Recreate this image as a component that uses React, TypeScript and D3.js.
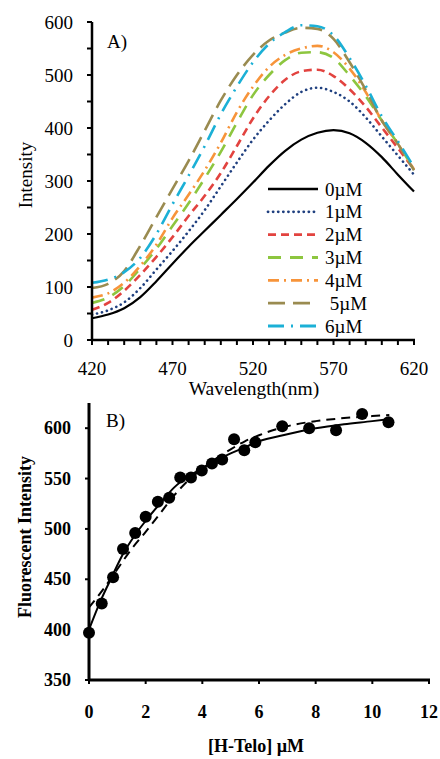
import React from "react";
import * as d3 from "d3";

const width = 440;
const height = 759;

// panel A: emission spectra
const wavelengths = [420, 430, 440, 450, 460, 470, 480, 490, 500, 510, 520, 530, 540, 550, 560, 570, 580, 590, 600, 610, 620];
const seriesNames = ["0µM", "1µM", "2µM", "3µM", "4µM", " 5µM", "6µM"];
const int0 = [41, 48, 60, 81, 111, 144, 176, 206, 236, 266, 297, 329, 357, 378, 391, 396, 390, 372, 345, 312, 280];
const int1 = [48, 56, 71, 98, 133, 168, 205, 245, 290, 335, 378, 414, 445, 468, 476, 468, 450, 420, 384, 348, 312];
const int2 = [57, 70, 93, 123, 157, 194, 234, 272, 315, 366, 418, 460, 491, 507, 510, 498, 473, 440, 401, 362, 322];
const int3 = [70, 80, 102, 135, 172, 215, 258, 305, 355, 410, 462, 500, 528, 542, 543, 532, 499, 460, 414, 370, 322];
const int4 = [80, 88, 108, 140, 180, 230, 274, 320, 372, 430, 478, 515, 538, 550, 555, 543, 512, 468, 414, 370, 322];
const int5 = [98, 106, 130, 178, 232, 285, 338, 395, 452, 500, 538, 565, 580, 589, 587, 568, 524, 472, 414, 370, 320];
const int6 = [108, 114, 128, 155, 200, 256, 310, 366, 426, 478, 524, 559, 581, 594, 592, 575, 532, 480, 422, 375, 326];
const spectra = [int0, int1, int2, int3, int4, int5, int6];
const colors = ["#000000", "#1f3f7f", "#e2433f", "#8dc63f", "#f7943a", "#9a8b50", "#1bb0d6"];
const dashes = ["none", "0.1 5", "8 5", "13 9", "11 5 2 5", "17 8", "16 7 2 7"];
const yTicksA = [0, 100, 200, 300, 400, 500, 600];
const xTicksA = [420, 470, 520, 570, 620];

// panel B: titration
const teloConc = [0, 0.45, 0.85, 1.2, 1.63, 2.0, 2.43, 2.83, 3.22, 3.6, 3.98, 4.34, 4.7, 5.12, 5.48, 5.87, 6.82, 7.77, 8.72, 9.64, 10.57];
const teloIntensity = [397, 426, 452, 480, 496, 512, 527, 531, 551, 551, 558, 565, 569, 589, 578, 586, 602, 600, 598, 614, 606];
const solidX = [0, 0.4, 0.8, 1.2, 1.6, 2, 2.5, 3, 3.5, 4, 4.5, 5, 5.5, 6, 7, 8, 9, 10, 10.6];
const solidY = [400, 428, 452, 475, 493, 508, 525, 541, 552, 560, 568, 575, 581, 587, 594, 600, 604, 607, 609];
const dashX = [0, 0.5, 1, 1.5, 2, 2.5, 3, 3.5, 4, 4.5, 5, 5.5, 6, 7, 8, 9, 10, 10.6];
const dashY = [422, 440, 460, 480, 497, 515, 533, 548, 560, 570, 579, 587, 593, 602, 607, 610, 612, 613];
const yTicksB = [350, 400, 450, 500, 550, 600];
const xTicksB = [0, 2, 4, 6, 8, 10, 12];

const serif = "'Liberation Serif', 'Times New Roman', serif";

const xA = d3.scaleLinear().domain([420, 620]).range([92, 414]);
const yA = d3.scaleLinear().domain([0, 600]).range([340, 22]);
const xB = d3.scaleLinear().domain([0, 12]).range([89, 429]);
const yB = d3.scaleLinear().domain([350, 625]).range([680, 403]);

const App = () => {
  const lineA = d3
    .line<number>()
    .x((_, i) => xA(wavelengths[i]))
    .y((d) => yA(d))
    .curve(d3.curveMonotoneX);

  const lineB = (xs: number[], ys: number[]) =>
    d3
      .line<number>()
      .x((d) => xB(d))
      .y((_, i) => yB(ys[i]))
      .curve(d3.curveMonotoneX)(xs) || "";

  const legendY = d3.scaleLinear().domain([0, 6]).range([189, 326]);

  return (
    <svg width={width} height={height} style={{ position: "absolute", left: 0, top: 0 }} fontFamily={serif}>
      <rect width={width} height={height} fill="#fff" />

      {/* ---- panel A ---- */}
      {spectra.map((s, i) => (
        <path
          key={i}
          d={lineA(s) || ""}
          fill="none"
          stroke={colors[i]}
          strokeWidth={i === 0 ? 2.2 : 2.6}
          strokeDasharray={dashes[i]}
          strokeLinecap={i === 1 ? "round" : "butt"}
        />
      ))}
      <line x1={92} x2={92} y1={yA(600)} y2={yA(0)} stroke="#000" strokeWidth={2.5} />
      <line x1={92} x2={415} y1={yA(0)} y2={yA(0)} stroke="#000" strokeWidth={2.5} />
      {d3.range(0, 601, 50).map((t) => (
        <line key={t} x1={87} x2={92} y1={yA(t)} y2={yA(t)} stroke="#000" strokeWidth={2} />
      ))}
      {d3.range(420, 621, 10).map((t) => (
        <line key={t} x1={xA(t)} x2={xA(t)} y1={340} y2={345} stroke="#000" strokeWidth={2} />
      ))}
      {yTicksA.map((t) => (
        <text key={t} x={73} y={yA(t) + 6.5} textAnchor="end" fontSize={19}>
          {t}
        </text>
      ))}
      {xTicksA.map((t) => (
        <text key={t} x={xA(t)} y={375} textAnchor="middle" fontSize={19}>
          {t}
        </text>
      ))}
      <text x={254} y={395} textAnchor="middle" fontSize={19.5}>
        Wavelength(nm)
      </text>
      <text transform="translate(32,175) rotate(-90)" textAnchor="middle" fontSize={19}>
        Intensity
      </text>
      <text x={107} y={48} fontSize={19}>
        A)
      </text>

      {seriesNames.map((n, i) => (
        <g key={n}>
          <line
            x1={268}
            x2={318}
            y1={legendY(i)}
            y2={legendY(i)}
            stroke={colors[i]}
            strokeWidth={i === 0 ? 2.4 : 2.8}
            strokeDasharray={dashes[i]}
            strokeLinecap={i === 1 ? "round" : "butt"}
          />
          <text x={325} y={legendY(i) + 6.5} fontSize={19} style={{ whiteSpace: "pre" }}>
            {n}
          </text>
        </g>
      ))}

      {/* ---- panel B ---- */}
      <path d={lineB(dashX, dashY)} fill="none" stroke="#000" strokeWidth={2} strokeDasharray="9 6" />
      <path d={lineB(solidX, solidY)} fill="none" stroke="#000" strokeWidth={2} />
      {teloConc.map((c, i) => (
        <circle key={i} cx={xB(c)} cy={yB(teloIntensity[i])} r={6} fill="#000" />
      ))}
      <line x1={89} x2={89} y1={403} y2={yB(350)} stroke="#000" strokeWidth={3} />
      <line x1={89} x2={430} y1={yB(350)} y2={yB(350)} stroke="#000" strokeWidth={3} />
      {yTicksB.map((t) => (
        <line key={t} x1={85} x2={89} y1={yB(t)} y2={yB(t)} stroke="#000" strokeWidth={2} />
      ))}
      {xTicksB.map((t) => (
        <line key={t} x1={xB(t)} x2={xB(t)} y1={680} y2={684} stroke="#000" strokeWidth={2} />
      ))}
      {yTicksB.map((t) => (
        <text key={t} x={71} y={yB(t) + 6} textAnchor="end" fontSize={18} fontWeight="bold">
          {t}
        </text>
      ))}
      {xTicksB.map((t) => (
        <text key={t} x={xB(t)} y={718} textAnchor="middle" fontSize={18} fontWeight="bold">
          {t}
        </text>
      ))}
      <text x={256} y={752} textAnchor="middle" fontSize={18} fontWeight="bold">
        [H-Telo] µM
      </text>
      <text transform="translate(31,537) rotate(-90)" textAnchor="middle" fontSize={18} fontWeight="bold">
        Fluorescent Intensity
      </text>
      <text x={106} y={427} fontSize={19}>
        B)
      </text>
    </svg>
  );
};

export default App;
